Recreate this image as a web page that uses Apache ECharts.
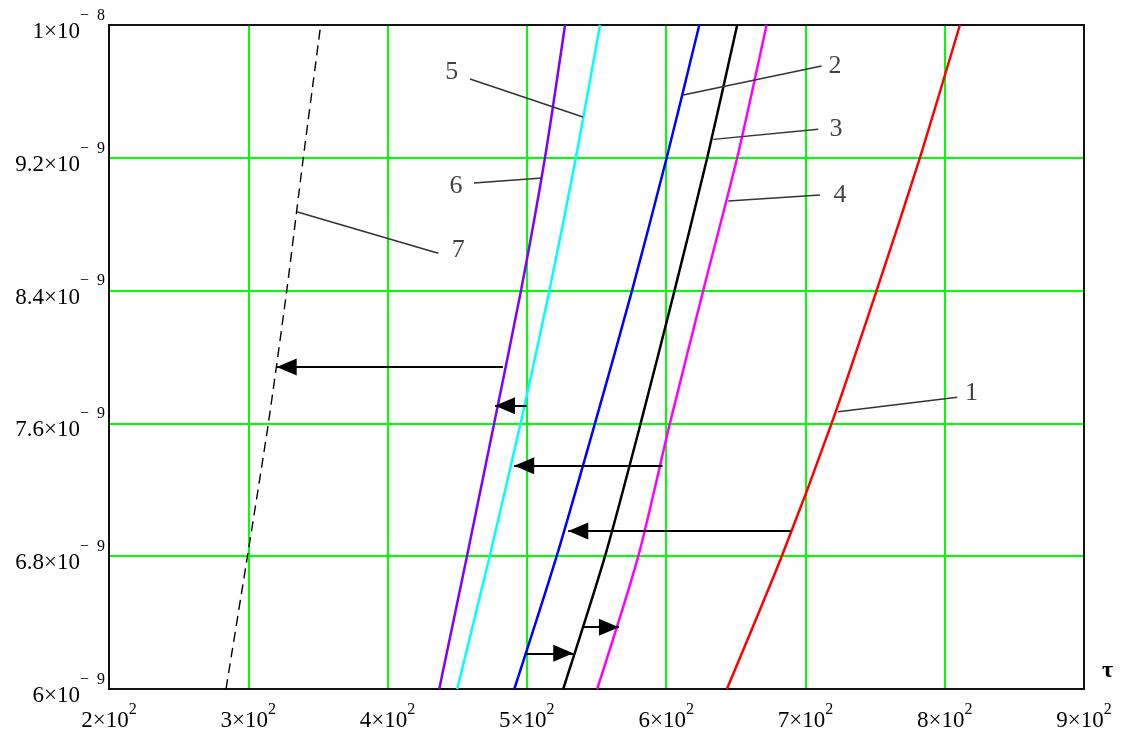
<!DOCTYPE html>
<html>
<head>
<meta charset="utf-8">
<script src="https://cdn.jsdelivr.net/npm/echarts@6/dist/echarts.min.js"></script>
<style>
  html, body { margin: 0; padding: 0; background: #fff; }
  #chart { width: 1127px; height: 735px; }
</style>
</head>
<body>
<div id="chart"></div>
<script>
// Ordinate values are stored in units of 1e-9; abscissa is τ.
const Y_UNIT = 1e-9;

// Ordinate levels at which each curve was sampled (also the axis ticks)
const levels = [6.0, 6.8, 7.6, 8.4, 9.2, 10.0];

// τ values of each curve at those levels
const curve1 = [643.6, 683.0, 718.8, 751.1, 782.2, 810.9];
const curve2 = [491.0, 521.4, 548.9, 575.5, 600.4, 623.8];
const curve3 = [526.1, 556.1, 581.7, 606.0, 629.5, 651.0];
const curve4 = [550.5, 580.0, 602.7, 626.6, 651.0, 672.1];
const curve5 = [450.0, 473.3, 495.5, 516.2, 535.2, 552.5];
const curve6 = [437.1, 457.0, 476.5, 495.8, 513.0, 527.4];
const curve7 = [284.0, 299.4, 314.4, 327.6, 339.5, 352.0];

// τ axis range and step
const tauMin = 200;
const tauMax = 900;
const tauStep = 100;

// Curve numbers, the point each number sits at, and the leader from curve to number
const tagNames = ['1', '2', '3', '4', '5', '6', '7'];
const tagPoints = [
  [819.3, 7.783], [721.2, 9.753], [722.0, 9.373], [724.8, 8.976],
  [446.0, 9.713], [449.1, 9.030], [450.8, 8.645]
];
const leaders = [
  [[723.5, 7.670], [809.0, 7.757]],
  [[612.2, 9.578], [711.6, 9.753]],
  [[633.8, 9.311], [709.2, 9.372]],
  [[644.6, 8.940], [710.4, 8.976]],
  [[540.3, 9.446], [459.2, 9.675]],
  [[510.8, 9.078], [462.0, 9.048]],
  [[334.7, 8.875], [436.4, 8.625]]
];

// Shift arrows between curves: [from τ, to τ, ordinate]
const shifts = [
  [482.8, 320.4, 7.940],
  [499.8, 477.1, 7.707],
  [597.4, 490.9, 7.345],
  [689.4, 529.7, 6.952],
  [499.4, 533.3, 6.215],
  [539.8, 566.1, 6.372]
];

// ---- styling ----
const SERIF = '"Liberation Serif", "DejaVu Serif", serif';
const curveStyles = [
  { color: '#ff0000', type: 'solid', width: 2.5 },
  { color: '#0000ff', type: 'solid', width: 2.5 },
  { color: '#000000', type: 'solid', width: 2.5 },
  { color: '#ff00ff', type: 'solid', width: 2.5 },
  { color: '#00ffff', type: 'solid', width: 2.5 },
  { color: '#8000ff', type: 'solid', width: 2.5 },
  { color: '#000000', type: [10, 6], width: 1.4 }
];
const curves = [curve1, curve2, curve3, curve4, curve5, curve6, curve7];

function splitPow(real) {
  const exp = Math.floor(Math.log10(real) + 1e-9);
  const mant = +(real / Math.pow(10, exp)).toFixed(1);
  return { mant, exp };
}

const curveSeries = curves.map((xs, i) => ({
  type: 'line',
  name: tagNames[i],
  data: levels.map((y, k) => [xs[k], y]),
  symbol: 'none',
  smooth: 0.25,
  z: 3,
  lineStyle: curveStyles[i],
  markLine: {
    silent: true,
    symbol: ['none', 'none'],
    label: { show: false },
    lineStyle: { color: '#333', width: 1.5, type: 'solid' },
    data: [[{ coord: leaders[i][0] }, { coord: leaders[i][1] }]]
  }
}));

const arrowSeries = {
  type: 'scatter',
  name: 'shifts',
  data: shifts.map(s => [s[0], s[2]]),
  symbolSize: 0,
  z: 4,
  markLine: {
    silent: true,
    symbol: ['none', 'triangle'],
    symbolSize: [17, 20],
    symbolOffset: [0, [0, 10]],
    label: { show: false },
    lineStyle: { color: '#000', width: 2, type: 'solid' },
    itemStyle: { color: '#000' },
    data: shifts.map(s => [{ coord: [s[0], s[2]] }, { coord: [s[1], s[2]] }])
  }
};

const tagSeries = {
  type: 'scatter',
  name: 'tags',
  data: tagPoints.map((p, i) => [p[0], p[1], tagNames[i]]),
  symbolSize: 0,
  z: 5,
  label: {
    show: true,
    position: 'inside',
    formatter: p => p.value[2],
    fontFamily: SERIF,
    fontSize: 26,
    color: '#111'
  }
};

const chart = echarts.init(document.getElementById('chart'), null, { renderer: 'canvas' });

const frameAxis = {
  axisLine: { show: true, lineStyle: { color: '#111', width: 2 } },
  axisTick: { show: false },
  axisLabel: { show: false },
  splitLine: { show: false }
};

chart.setOption({
  animation: false,
  backgroundColor: '#fff',
  grid: { left: 109, top: 25, width: 975, height: 664 },
  xAxis: [
    {
      type: 'value',
      min: tauMin, max: tauMax, interval: tauStep,
      name: 'τ',
      nameLocation: 'end',
      nameGap: 18,
      nameTextStyle: {
        fontFamily: SERIF, fontSize: 24, fontWeight: 'bold', color: '#000',
        verticalAlign: 'bottom', padding: [0, 0, 6, 0]
      },
      axisLine: { show: true, onZero: false, lineStyle: { color: '#111', width: 2 } },
      axisTick: { show: false },
      splitLine: { show: true, lineStyle: { color: '#00ff00', width: 2 } },
      axisLabel: {
        margin: 13,
        showMinLabel: true, showMaxLabel: true,
        formatter: v => {
          const { mant, exp } = splitPow(v);
          return `{m|${mant}×10}{e|${exp}}`;
        },
        rich: {
          m: { fontFamily: SERIF, fontSize: 23, color: '#000', lineHeight: 30, verticalAlign: 'bottom' },
          e: { fontFamily: SERIF, fontSize: 16, color: '#000', lineHeight: 12, verticalAlign: 'top' }
        }
      }
    },
    Object.assign({ type: 'value', position: 'top', min: tauMin, max: tauMax, interval: tauStep }, frameAxis)
  ],
  yAxis: [
    {
      type: 'value',
      min: levels[0], max: levels[levels.length - 1],
      axisLine: { show: true, onZero: false, lineStyle: { color: '#111', width: 2 } },
      axisTick: { show: false, customValues: levels },
      splitLine: { show: true, lineStyle: { color: '#00ff00', width: 2 } },
      axisLabel: {
        margin: 4,
        customValues: levels,
        showMinLabel: true, showMaxLabel: true,
        padding: [1, 0, 0, 0],
        formatter: v => {
          const { mant, exp } = splitPow(v * Y_UNIT);
          return `{m|${mant}×10}{e|\u2212\u2002${-exp}}`;
        },
        rich: {
          m: { fontFamily: SERIF, fontSize: 23, color: '#000', lineHeight: 36, verticalAlign: 'bottom' },
          e: { fontFamily: SERIF, fontSize: 16, color: '#000', lineHeight: 14, verticalAlign: 'top' }
        }
      }
    },
    Object.assign({ type: 'value', position: 'right', min: levels[0], max: levels[levels.length - 1] }, frameAxis)
  ],
  series: [...curveSeries, arrowSeries, tagSeries]
});
</script>
</body>
</html>
